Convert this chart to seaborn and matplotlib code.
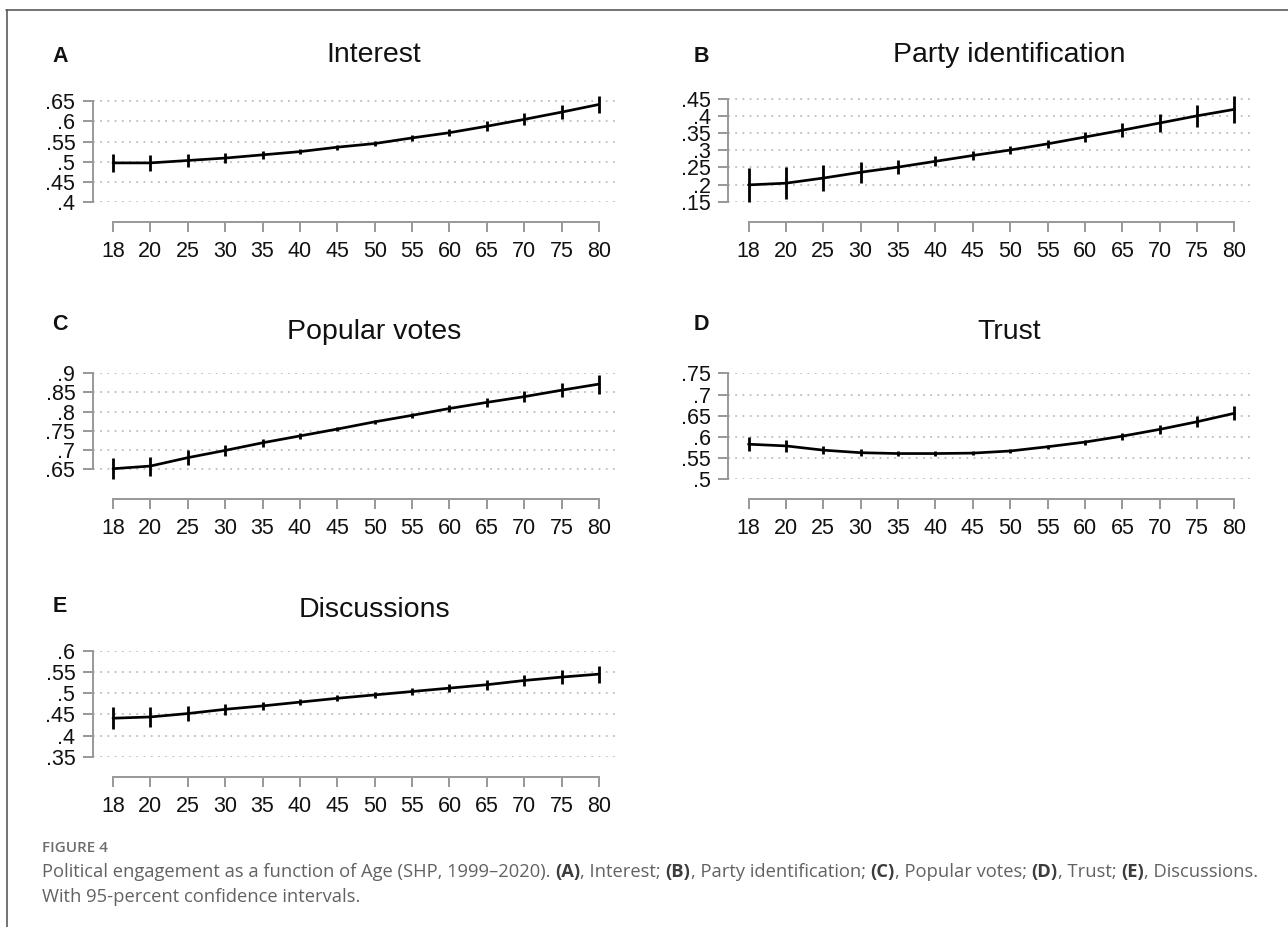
import numpy as np
import pandas as pd
import matplotlib
matplotlib.use("Agg")
import matplotlib.pyplot as plt
import seaborn as sns
from matplotlib.lines import Line2D

# ---- data: predicted margins with 95% CI half-widths ----
ages = [18, 20, 25, 30, 35, 40, 45, 50, 55, 60, 65, 70, 75, 80]

interest = [.497, .497, .503, .509, .517, .525, .536, .545, .559, .572, .588, .605, .623, .642]
interest_ci = [.023, .020, .016, .013, .010, .007, .006, .006, .007, .009, .012, .015, .018, .021]
interest_ticks = [.40, .45, .50, .55, .60, .65]

party_id = [.199, .204, .219, .236, .251, .268, .285, .301, .319, .339, .359, .380, .401, .420]
party_id_ci = [.050, .047, .037, .030, .021, .015, .012, .011, .012, .014, .020, .026, .032, .039]
party_id_ticks = [.15, .20, .25, .30, .35, .40, .45]

popular_votes = [.650, .657, .679, .698, .718, .736, .754, .773, .790, .808, .824, .839, .856, .872]
popular_votes_ci = [.028, .025, .019, .014, .010, .007, .006, .006, .007, .008, .011, .014, .019, .025]
popular_votes_ticks = [.65, .70, .75, .80, .85, .90]

trust = [.583, .579, .569, .563, .561, .561, .562, .567, .577, .588, .602, .618, .636, .656]
trust_ci = [.017, .014, .010, .008, .006, .005, .005, .005, .005, .006, .008, .010, .013, .017]
trust_ticks = [.50, .55, .60, .65, .70, .75]

discussions = [.441, .444, .452, .462, .470, .479, .488, .496, .504, .512, .520, .530, .538, .545]
discussions_ci = [.026, .023, .017, .013, .010, .008, .007, .007, .008, .010, .012, .014, .017, .020]
discussions_ticks = [.35, .40, .45, .50, .55, .60]

panel_letters = ["A", "B", "C", "D", "E"]
panel_titles = ["Interest", "Party identification", "Popular votes", "Trust", "Discussions"]

caption_label = "FIGURE 4"
caption_line1 = [
    ("Political engagement as a function of Age (SHP, 1999\u20132020). ", False),
    ("(A)", True), (", Interest; ", False),
    ("(B)", True), (", Party identification; ", False),
    ("(C)", True), (", Popular votes; ", False),
    ("(D)", True), (", Trust; ", False),
    ("(E)", True), (", Discussions.", False),
]
caption_line2 = "With 95-percent confidence intervals."

# ---- styling ----
sns.set_theme(style="white")
plt.rcParams["font.family"] = ["Liberation Sans", "DejaVu Sans"]

W, H = 1288, 927
fig = plt.figure(figsize=(W / 100, H / 100), dpi=100)
fig.patch.set_facecolor("white")

AXIS_GREY = "#9a9a9a"
GRID_GREY = "#bdbdbd"
PX = 72 / 100  # points per pixel


def fx(x):
    return x / W


def fy(y):
    return 1 - y / H


def tick_text(v):
    s = f"{v:.2f}".rstrip("0")
    return s.lstrip("0")


col_left = [93, 728.5]
col_title_x = [374, 1009]
col_letter_x = [60, 701]
row_pitch = 277.4
region_h = 106
axes_w = 526
xlim = (-0.535, 13.535)

panels = [
    (interest, interest_ci, interest_ticks),
    (party_id, party_id_ci, party_id_ticks),
    (popular_votes, popular_votes_ci, popular_votes_ticks),
    (trust, trust_ci, trust_ticks),
    (discussions, discussions_ci, discussions_ticks),
]
letter_dy = [2, 2, -8, -8, -3]

for i, (vals, ci, ticks) in enumerate(panels):
    row, col = divmod(i, 2)
    bottom = 202 + row_pitch * row
    left = col_left[col]
    ax = fig.add_axes([fx(left), fy(bottom), axes_w / W, region_h / H])

    df = pd.DataFrame({"pos": np.arange(len(ages)), "age": ages,
                       "margin": vals, "ci": ci})
    df["lo"] = df["margin"] - df["ci"]
    df["hi"] = df["margin"] + df["ci"]

    sns.lineplot(data=df, x="pos", y="margin", ax=ax, color="black",
                 linewidth=2.7 * PX, clip_on=False, zorder=3)
    ax.vlines(df["pos"], df["lo"], df["hi"], color="black",
              linewidth=2.8 * PX, clip_on=False, zorder=3)

    ymin = min(ticks[0], df["lo"].min())
    ymax = max(ticks[-1], df["hi"].max())
    ax.set_ylim(ymin, ymax)
    ax.set_xlim(*xlim)

    ax.set_yticks(ticks)
    ax.set_yticklabels([tick_text(t) for t in ticks])
    ax.set_xticks(df["pos"])
    ax.set_xticklabels([str(a) for a in ages])
    ax.set_xlabel("")
    ax.set_ylabel("")

    for side in ("top", "right"):
        ax.spines[side].set_visible(False)
    for side in ("left", "bottom"):
        ax.spines[side].set_color(AXIS_GREY)
        ax.spines[side].set_linewidth(2.0 * PX)
    ax.spines["left"].set_bounds(ticks[0], ticks[-1])
    ax.spines["bottom"].set_bounds(0, len(ages) - 1)
    ax.spines["bottom"].set_position(("outward", 20 * PX))

    ax.tick_params(axis="both", which="major", direction="out",
                   length=10 * PX, width=2.0 * PX, color=AXIS_GREY,
                   labelsize=15.5, labelcolor="#111111")
    ax.tick_params(axis="x", pad=6.5)
    ax.tick_params(axis="y", pad=5.5)
    ax.tick_params(left=True, bottom=True)

    ax.set_axisbelow(True)
    ax.yaxis.grid(True, linestyle=(0, (1.0, 3.0)), color=GRID_GREY,
                  linewidth=1.3)
    ax.xaxis.grid(False)
    ax.set_facecolor("none")

    title_y = 55 + row_pitch * row
    fig.text(fx(col_title_x[col]), fy(title_y), panel_titles[i],
             ha="center", va="center", fontsize=20.5, color="#111111")
    fig.text(fx(col_letter_x[col]), fy(title_y + letter_dy[i]),
             panel_letters[i], ha="center", va="center", fontsize=15.5,
             fontweight="bold", color="#111111")

# ---- frame lines at the left and top ----
frame_kw = dict(color="#555555", linewidth=1.6 * PX, transform=fig.transFigure)
fig.add_artist(Line2D([fx(6.5), fx(6.5)], [fy(10), fy(H + 2)], **frame_kw))
fig.add_artist(Line2D([fx(6), fx(W + 2)], [fy(10), fy(10)], **frame_kw))

# ---- caption ----
CAP_FONT = ["Open Sans", "DejaVu Sans"]
renderer = fig.canvas.get_renderer()


def text_width(s, size, bold):
    t = fig.text(0, 0, s, fontsize=size, family=CAP_FONT,
                 fontweight="bold" if bold else "normal")
    w = t.get_window_extent(renderer).width
    t.remove()
    return w


def piece_width(s, size, bold):
    core = s.rstrip(" ")
    n_trail = len(s) - len(core)
    sp = text_width("x x", size, bold) - text_width("xx", size, bold)
    return text_width(core, size, bold) + n_trail * sp


cap_x0, cap_x1 = 42, 1250
ref_size = 12.0
ref_w = sum(piece_width(s, ref_size, b) for s, b in caption_line1)
cap_size = ref_size * (cap_x1 - cap_x0) / ref_w

fig.text(fx(cap_x0), fy(848), caption_label, ha="left", va="center",
         fontsize=cap_size * 0.83, family=CAP_FONT, fontweight="semibold",
         color="#6e6e6e")

cur = cap_x0
for s, bold in caption_line1:
    fig.text(fx(cur), fy(872), s, ha="left", va="center", fontsize=cap_size,
             family=CAP_FONT, fontweight="bold" if bold else "normal",
             color="#3c3c3c" if bold else "#626262")
    cur += piece_width(s, cap_size, bold)

fig.text(fx(cap_x0), fy(897), caption_line2, ha="left", va="center",
         fontsize=cap_size, family=CAP_FONT, color="#626262")

fig.savefig("out.png", dpi=100, facecolor="white")
